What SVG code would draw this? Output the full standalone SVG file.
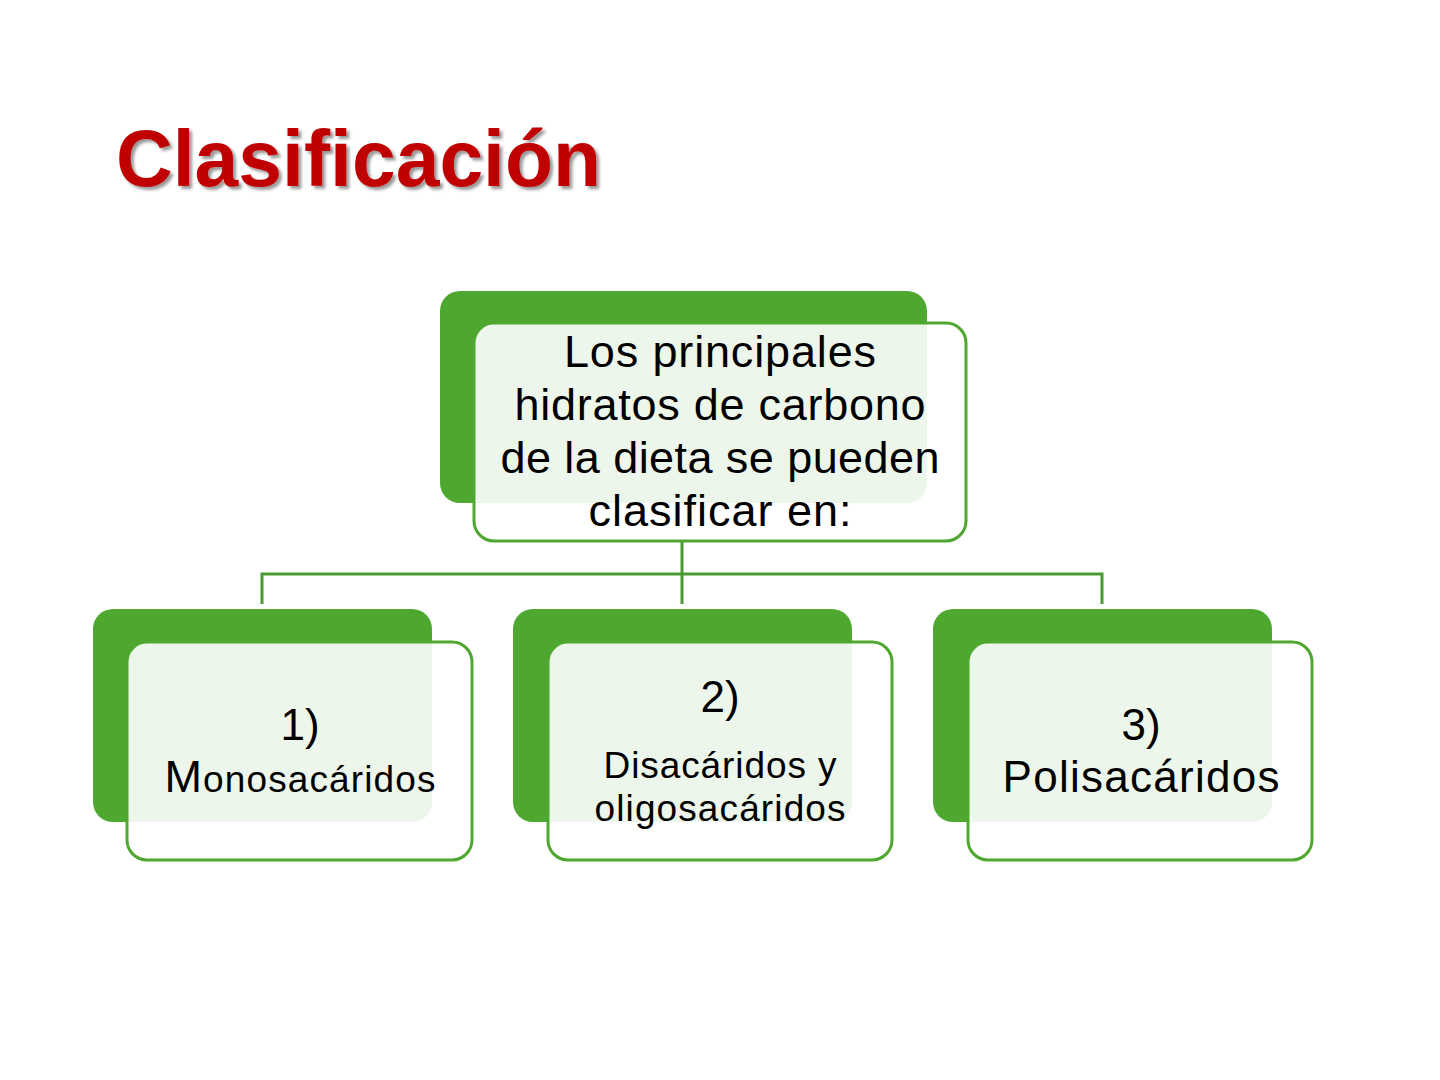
<svg xmlns="http://www.w3.org/2000/svg" width="1440" height="1080" viewBox="0 0 1440 1080">
<defs>
<filter id="shadow" x="-10%" y="-20%" width="120%" height="150%">
<feDropShadow dx="3" dy="3" stdDeviation="1.5" flood-color="#000000" flood-opacity="0.4"/>
</filter>
</defs>
<style>
.back{fill:#4EA72E}
.front{fill:#FFFFFF;fill-opacity:0.9;stroke:#4EA72E;stroke-width:3}
.t{font-family:"Liberation Sans",Arial,sans-serif;fill:#000;text-anchor:middle}
.conn{fill:none;stroke:#4A9A34;stroke-width:3}
.title{font-family:"Liberation Sans",Arial,sans-serif;font-weight:bold;font-size:80px;fill:#C00000}
</style>
<rect width="1440" height="1080" fill="#FFFFFF"/>
<g id="title">
<text class="title" x="116" y="186" textLength="485" lengthAdjust="spacingAndGlyphs" filter="url(#shadow)">Clasificación</text>
</g>
<g id="connectors">
<path class="conn" d="M682,541 V574 M262,604 V574 H1102 V604 M682,574 V604"/>
</g>
<g id="root">
<rect class="back" x="440" y="291" width="487" height="212" rx="20"/>
<rect class="front" x="474" y="323" width="492" height="218" rx="20"/>
<text class="t" font-size="45" x="720" y="367" textLength="312" lengthAdjust="spacing">Los principales</text>
<text class="t" font-size="45" x="720" y="420" textLength="411" lengthAdjust="spacing">hidratos de carbono</text>
<text class="t" font-size="45" x="720" y="473" textLength="439" lengthAdjust="spacing">de la dieta se pueden</text>
<text class="t" font-size="45" x="720" y="526" textLength="263" lengthAdjust="spacing">clasificar en:</text>
</g>
<g id="mono">
<rect class="back" x="93" y="609" width="339" height="213" rx="20"/>
<rect class="front" x="127" y="642" width="345" height="218" rx="20"/>
<text class="t" font-size="44" x="300" y="740">1)</text>
<text class="t" font-size="37" x="300" y="792" textLength="271" lengthAdjust="spacing"><tspan font-size="45">M</tspan>onosacáridos</text>
</g>
<g id="di">
<rect class="back" x="513" y="609" width="339" height="213" rx="20"/>
<rect class="front" x="548" y="642" width="344" height="218" rx="20"/>
<text class="t" font-size="44" x="720" y="712">2)</text>
<text class="t" font-size="37" x="720" y="778" textLength="233" lengthAdjust="spacing">Disacáridos y</text>
<text class="t" font-size="37" x="720" y="821" textLength="251" lengthAdjust="spacing">oligosacáridos</text>
</g>
<g id="poli">
<rect class="back" x="933" y="609" width="339" height="213" rx="20"/>
<rect class="front" x="968" y="642" width="344" height="218" rx="20"/>
<text class="t" font-size="44" x="1141" y="740">3)</text>
<text class="t" font-size="44" x="1141" y="792" textLength="277" lengthAdjust="spacing">Polisacáridos</text>
</g>
</svg>
